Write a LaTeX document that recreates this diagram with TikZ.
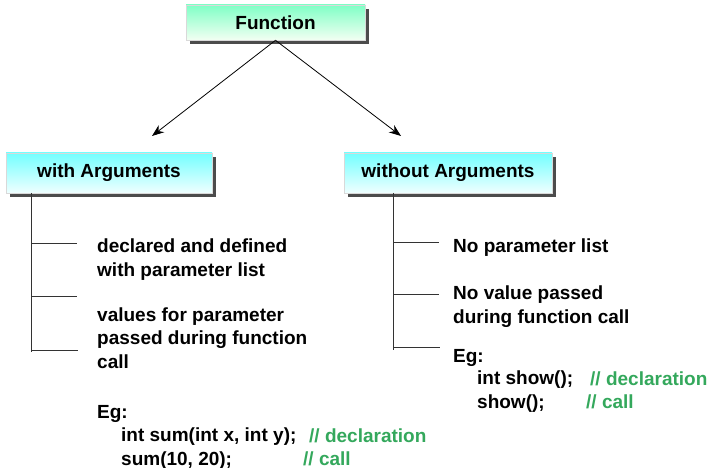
\documentclass[tikz,border=0pt]{standalone}
\usepackage{fontspec}
\setmainfont{Liberation Sans}
\usetikzlibrary{arrows.meta,positioning,shadows}

\definecolor{commentgreen}{RGB}{52,168,92}

\begin{document}
\begin{tikzpicture}[
    x=1pt, y=-1pt,
    every node/.style={font=\fontsize{19}{23.5}\selectfont\bfseries, inner sep=0pt},
    headbox/.style={rectangle, draw=black!15, line width=0.6pt, minimum height=40pt,
        top color=cyan!55, bottom color=cyan!6,
        drop shadow={shadow xshift=3.5pt, shadow yshift=-4pt, fill=black!70, opacity=1}},
    rootbox/.style={headbox, minimum height=35pt, top color=green!45!cyan!50, bottom color=green!5},
    txt/.style={anchor=base west, align=left},
    comment/.style={anchor=base west, text=commentgreen},
    arrow/.style={thick, -{Stealth[length=12pt, width=9pt]}},
    tree/.style={line width=0.9pt, black!80}
]
    \useasboundingbox (0,0) rectangle (718,468);

    % boxes
    \node[rootbox, minimum width=179pt] (func) at (275.5,22.5) {Function};
    \node[headbox, minimum width=206pt] (with) at (109,173) {with Arguments};
    \node[headbox, minimum width=208pt] (without) at (448,173) {without Arguments};

    \coordinate (wtip) at (152,136);
    \coordinate (otip) at (401,136);
    \draw[arrow] (func.south) -- (wtip);
    \draw[arrow] (func.south) -- (otip);

    % with arguments (multi-line nodes sit on their last line)
    \coordinate (wtop) at (31,193);
    \coordinate (wa) at (31,243);
    \coordinate (wb) at (31,296);
    \coordinate (wc) at (31,350);
    \draw[tree] (wtop) -- (31,352);
    \draw[tree] (wa) -- ++(46,0);
    \draw[tree] (wb) -- ++(46,0);
    \draw[tree] (wc) -- ++(47,0);

    \node[txt] (wdecl) at (97,276) {declared and defined\\with parameter list};
    \node[txt] (wvals) at (97,368) {values for parameter\\passed during function\\call};
    \node[txt] (weg) at (97,418) {Eg:};
    \node[txt] (wcode) at (121,465) {int sum(int x, int y);\\sum(10, 20);};
    \node[comment] (wcom1) at (309,442) {// declaration};
    \node[comment] (wcom2) at (303,465) {// call};

    % without arguments
    \coordinate (otop) at (393,193);
    \coordinate (oa) at (393,242);
    \coordinate (ob) at (393,294);
    \coordinate (oc) at (393,347);
    \draw[tree] (otop) -- (393,350);
    \draw[tree] (oa) -- ++(46,0);
    \draw[tree] (ob) -- ++(46,0);
    \draw[tree] (oc) -- ++(47,0);

    \node[txt] (onolist) at (453,252) {No parameter list};
    \node[txt] (onoval) at (453,323) {No value passed\\during function call};
    \node[txt] (oeg) at (453,362) {Eg:};
    \node[txt] (ocode) at (477,408) {int show();\\show();};
    \node[comment] (ocom1) at (590,385) {// declaration};
    \node[comment] (ocom2) at (586,408) {// call};
\end{tikzpicture}
\end{document}
